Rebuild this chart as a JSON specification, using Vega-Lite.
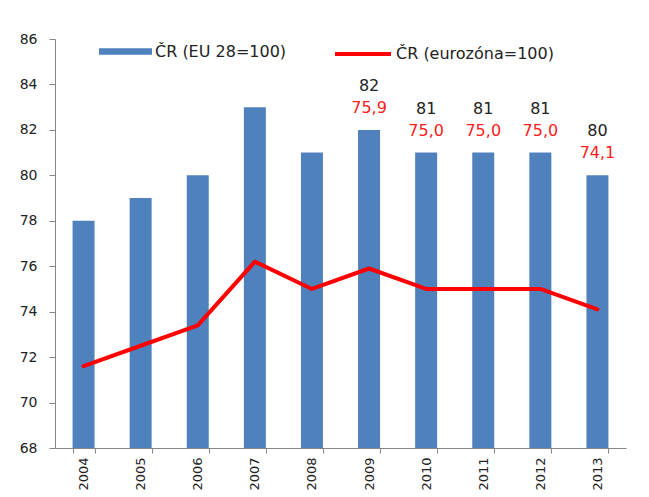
{
  "$schema": "https://vega.github.io/schema/vega-lite/v6.json",
  "width": 571,
  "height": 409,
  "autosize": {"type": "none"},
  "padding": {"left": 55, "top": 39, "right": 23, "bottom": 49},
  "background": "white",
  "config": {
    "view": {"stroke": null},
    "font": "DejaVu Sans",
    "locale": {"number": {"decimal": ",", "thousands": " ", "grouping": [3], "currency": ["", " Kč"]}}
  },
  "data": {
    "values": [
      {"year": "2004", "eu": 78, "ez": 71.6},
      {"year": "2005", "eu": 79, "ez": 72.5},
      {"year": "2006", "eu": 80, "ez": 73.4},
      {"year": "2007", "eu": 83, "ez": 76.2},
      {"year": "2008", "eu": 81, "ez": 75.0},
      {"year": "2009", "eu": 82, "ez": 75.9},
      {"year": "2010", "eu": 81, "ez": 75.0},
      {"year": "2011", "eu": 81, "ez": 75.0},
      {"year": "2012", "eu": 81, "ez": 75.0},
      {"year": "2013", "eu": 80, "ez": 74.1}
    ]
  },
  "encoding": {
    "x": {
      "field": "year",
      "type": "ordinal",
      "scale": {"paddingInner": 0.615, "paddingOuter": 0.3075},
      "axis": {
        "title": null,
        "tickBand": "extent",
        "tickSize": 5,
        "tickColor": "#868686",
        "domainColor": "#868686",
        "labelAngle": -90,
        "labelPadding": 4,
        "labelFontSize": 13,
        "labelColor": "#222222",
        "labelFont": "DejaVu Sans"
      }
    }
  },
  "layer": [
    {
      "mark": {"type": "bar", "clip": true},
      "encoding": {
        "y": {
          "field": "eu",
          "type": "quantitative",
          "scale": {"domain": [68, 86], "zero": false, "nice": false},
          "axis": {
            "title": null,
            "grid": false,
            "values": [68, 70, 72, 74, 76, 78, 80, 82, 84, 86],
            "tickSize": 6,
            "tickColor": "#868686",
            "domainColor": "#868686",
            "labelPadding": 12,
            "labelFontSize": 14,
            "labelColor": "#222222"
          }
        },
        "fill": {
          "datum": "ČR (EU 28=100)",
          "type": "nominal",
          "scale": {"range": ["#4F81BD"]},
          "legend": {
            "orient": "none",
            "legendX": 44,
            "legendY": -14,
            "title": null,
            "padding": 0,
            "symbolType": "M-1,-0.12H1V0.12H-1Z",
            "symbolSize": 2809,
            "symbolStrokeWidth": 0,
            "labelFontSize": 16,
            "labelColor": "#222222",
            "labelOffset": 3
          }
        }
      }
    },
    {
      "mark": {"type": "line", "strokeWidth": 4, "strokeCap": "round", "strokeJoin": "round"},
      "encoding": {
        "y": {"field": "ez", "type": "quantitative"},
        "stroke": {
          "datum": "ČR (eurozóna=100)",
          "type": "nominal",
          "scale": {"range": ["#FF0000"]},
          "legend": {
            "orient": "none",
            "legendX": 278,
            "legendY": -15,
            "title": null,
            "padding": 0,
            "symbolType": "stroke",
            "symbolSize": 3136,
            "symbolStrokeWidth": 4,
            "labelFontSize": 16,
            "labelColor": "#222222",
            "labelOffset": 3
          }
        }
      }
    },
    {
      "transform": [{"filter": "toNumber(datum.year) >= 2009"}],
      "mark": {"type": "text", "dy": -44, "fontSize": 16, "color": "#222222", "baseline": "middle"},
      "encoding": {
        "y": {"field": "eu", "type": "quantitative"},
        "text": {"field": "eu", "type": "quantitative"}
      }
    },
    {
      "transform": [{"filter": "toNumber(datum.year) >= 2009"}],
      "mark": {"type": "text", "dy": -22, "fontSize": 16, "color": "#FF2020", "baseline": "middle"},
      "encoding": {
        "y": {"field": "eu", "type": "quantitative"},
        "text": {"field": "ez", "type": "quantitative", "format": ".1f"}
      }
    }
  ]
}
